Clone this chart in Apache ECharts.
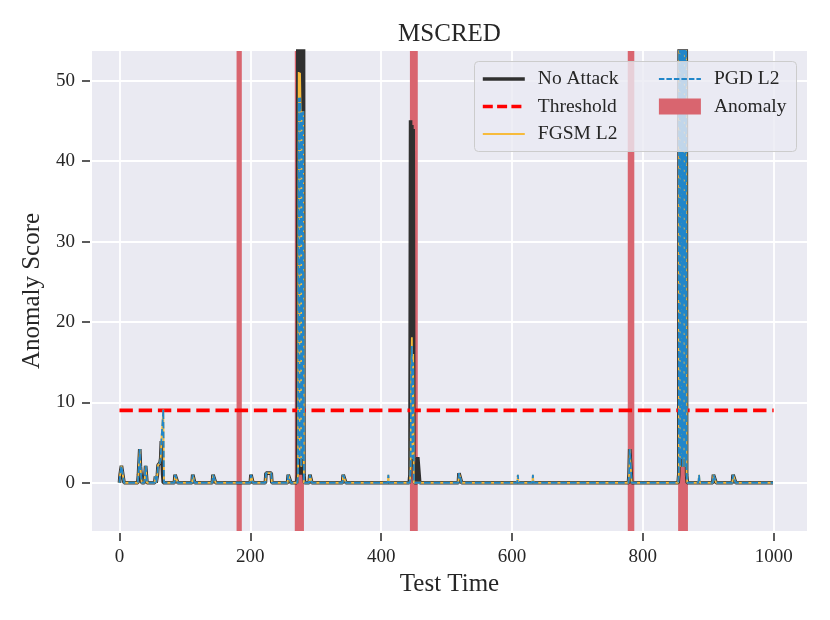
<!DOCTYPE html>
<html><head><meta charset="utf-8">
<script src="https://cdn.jsdelivr.net/npm/echarts@6/dist/echarts.min.js"></script>
<style>html,body{margin:0;padding:0;background:#fff}#c{width:830px;height:620px}</style>
</head><body><div id="c"></div>
<script>
const xTicks = [0, 200, 400, 600, 800, 1000];
const yTicks = [0, 10, 20, 30, 40, 50];
const threshold = 9.0;
const thresholdSpan = [0, 1000];
const anomalyRanges = [[179, 187], [268, 282], [444, 456], [777, 787], [854, 869]];

const noAttack = [
  [0,0],[1,1],[2,1],[3,2.1],[6,2.1],[7,0],
  [28,0],[29,1],[30,1.2],[31,4.2],[32,2],[33,1],[34,0],
  [38,0],[39,1],[40,2.1],[41,2.1],[42,0],
  [54,0],[55,0.8],[56,0],
  [57,0],[58,1],[59,2.2],[61,2.2],[62,2.5],[63,3],[64,5.2],[65,5.2],[66,1],[67,0],
  [84,0],[85,1],[88,1],[89,0],
  [111,0],[112,1],[114,1],[115,0],
  [142,0],[143,1],[146,1],[147,0],
  [200,0],[201,1],[203,1],[204,0],
  [223,0],[224,1.2],[232,1.2],[233,0],
  [257,0],[258,1],[261,1],[262,0],
  [271,0],[272,1],[273,90],[274,2],[275,100],[276,1],[277,95],[278,2],[279,110],[280,1],[281,90],[282,1],[283,0],
  [290,0],[291,1],[293,1],[294,0],
  [341,0],[342,1],[345,1],[346,0],
  [443,0],[444,1],[445,45.1],[446,3],[447,44.5],[448,2],[449,44],[450,3],[451,0],
  [455,0],[456,3.2],[458,3.2],[459,0],
  [518,0],[519,1.2],[522,1.2],[523,0],
  [778,0],[779,1],[780,4.2],[782,4.2],[783,0],
  [854,0],[855,1],[856,100],[857,2],[858,105],[859,3],[860,110],[861,2],[862,100],[863,3],[864,105],[865,2],[866,95],[867,1],[868,0],
  [907,0],[908,1],[911,1],[912,0],
  [937,0],[938,1],[941,1],[942,0],
  [999,0]
];

const fgsmL2 = [
  [0,0],[1,1],[2,1],[3,2.1],[6,2.1],[7,0],
  [28,0],[29,1],[30,1.2],[31,4.2],[32,2],[33,1],[34,0],
  [38,0],[39,1],[40,2.1],[41,2.1],[42,0],
  [54,0],[55,0.8],[56,0],
  [57,0],[58,1],[59,2.2],[61,2.2],[62,2.5],[63,3],[64,5.2],[65,5.2],[66,5],[67,9.1],[68,0],
  [84,0],[85,1],[88,1],[89,0],
  [111,0],[112,1],[114,1],[115,0],
  [142,0],[143,1],[146,1],[147,0],
  [200,0],[201,1],[203,1],[204,0],
  [223,0],[224,1.2],[232,1.2],[233,0],
  [257,0],[258,1],[261,1],[262,0],
  [272,0],[273,1],[274,51.1],[275,3],[276,51],[277,46.2],[278,2],[279,46.2],[280,3],[281,46.2],[282,0],
  [290,0],[291,1],[293,1],[294,0],
  [341,0],[342,1],[345,1],[346,0],
  [410,0],[411,1],[412,0],
  [444,0],[445,2],[446,14],[447,18.1],[448,3],[449,16],[450,0],
  [518,0],[519,1.2],[522,1.2],[523,0],
  [608,0],[609,1],[610,0],
  [631,0],[632,1],[633,0],
  [778,0],[779,1],[780,4.2],[782,4.2],[783,0],
  [854,0],[855,1],[856,100],[857,2],[858,105],[859,3],[860,110],[861,2],[862,100],[863,3],[864,105],[865,2],[866,95],[867,1],[868,0],
  [885,0],[886,1],[887,0],
  [907,0],[908,1],[911,1],[912,0],
  [937,0],[938,1],[941,1],[942,0],
  [999,0]
];

const pgdL2 = [
  [0,0],[1,1],[2,1],[3,2.1],[6,2.1],[7,0],
  [28,0],[29,1],[30,1.2],[31,4.2],[32,2],[33,1],[34,0],
  [38,0],[39,1],[40,2.1],[41,2.1],[42,0],
  [54,0],[55,0.8],[56,0],
  [57,0],[58,1],[59,2.2],[61,2.2],[62,2.5],[63,3],[64,5.2],[65,5.2],[66,5],[67,9.1],[68,0],
  [84,0],[85,1],[88,1],[89,0],
  [111,0],[112,1],[114,1],[115,0],
  [142,0],[143,1],[146,1],[147,0],
  [200,0],[201,1],[203,1],[204,0],
  [223,0],[224,1.2],[232,1.2],[233,0],
  [257,0],[258,1],[261,1],[262,0],
  [272,0],[273,1],[274,47.9],[275,3],[276,47.9],[277,46.2],[278,2],[279,46.2],[280,3],[281,46.2],[282,0],
  [290,0],[291,1],[293,1],[294,0],
  [341,0],[342,1],[345,1],[346,0],
  [410,0],[411,1],[412,0],
  [444,0],[445,2],[446,14],[447,17],[448,3],[449,15],[450,0],
  [518,0],[519,1.2],[522,1.2],[523,0],
  [608,0],[609,1],[610,0],
  [631,0],[632,1],[633,0],
  [778,0],[779,1],[780,4.2],[782,4.2],[783,0],
  [854,0],[855,1],[856,100],[857,2],[858,105],[859,3],[860,110],[861,2],[862,100],[863,3],[864,105],[865,2],[866,95],[867,1],[868,0],
  [885,0],[886,1],[887,0],
  [907,0],[908,1],[911,1],[912,0],
  [937,0],[938,1],[941,1],[942,0],
  [999,0]
];

const FONT = 'Liberation Serif';
const TXT = '#262626';
const BAND = '#d9656f';
const BLACK = '#303030';
const RED = '#ff0000';
const YELLOW = '#f7bb3c';
const BLUE = '#2186c9';

const chart = echarts.init(document.getElementById('c'), null, {renderer: 'canvas'});
const lineBase = {type: 'line', symbol: 'none', showSymbol: false, clip: true, animation: false, emphasis: {disabled: true}, silent: true};
const legendText = {fontFamily: FONT, fontSize: 19.5, color: TXT, padding: [0, 0, 0, 8]};
const hideSym = {opacity: 0};

chart.setOption({
  animation: false,
  backgroundColor: '#ffffff',
  title: {
    text: 'MSCRED', left: 449.5, top: 22, textAlign: 'center', padding: 0,
    textStyle: {fontFamily: FONT, fontSize: 25, fontWeight: 'normal', color: TXT}
  },
  grid: {left: 92, right: 23, top: 51, bottom: 89, show: true, backgroundColor: '#EAEAF2', borderWidth: 0},
  graphic: [{
    type: 'rect', z: 100, shape: {x: 474.5, y: 61.5, width: 322, height: 90, r: 4},
    style: {fill: 'rgba(234,234,242,0.8)', stroke: '#cccccc', lineWidth: 1}
  }],
  legend: [
    {data: [
       {name: 'No Attack', itemStyle: hideSym, lineStyle: {width: 3.6, color: BLACK}},
       {name: 'Threshold', itemStyle: hideSym, lineStyle: {width: 3.6, color: RED, type: [10, 4.3]}},
       {name: 'FGSM L2', itemStyle: hideSym, lineStyle: {width: 1.8, color: YELLOW}}],
     orient: 'vertical', left: 481, top: 69, itemWidth: 42, itemHeight: 16, itemGap: 7.5,
     padding: 0, selectedMode: false, z: 200, textStyle: legendText},
    {data: [
       {name: 'PGD L2', itemStyle: hideSym, lineStyle: {width: 1.8, color: BLUE, type: [5.5, 2]}},
       {name: 'Anomaly', icon: 'rect'}],
     orient: 'vertical', left: 658, top: 69, itemWidth: 42, itemHeight: 16, itemGap: 7.5,
     padding: 0, selectedMode: false, z: 200, textStyle: legendText}
  ],
  xAxis: {
    type: 'value', min: -42, max: 1051, offset: 2,
    axisLine: {show: false, onZero: false},
    axisTick: {show: true, length: 8, customValues: xTicks, lineStyle: {color: TXT, width: 1.5}},
    axisLabel: {customValues: xTicks, margin: 15, fontFamily: FONT, fontSize: 19, color: TXT, formatter: v => String(v)},
    splitLine: {show: true, lineStyle: {color: '#ffffff', width: 1.8}},
    name: 'Test Time', nameLocation: 'middle', nameGap: 38,
    nameTextStyle: {fontFamily: FONT, fontSize: 25, color: TXT}
  },
  yAxis: {
    type: 'value', min: -6, max: 53.7, offset: 2,
    axisLine: {show: false, onZero: false},
    axisTick: {show: true, length: 8, customValues: yTicks, lineStyle: {color: TXT, width: 1.5}},
    axisLabel: {customValues: yTicks, margin: 15, fontFamily: FONT, fontSize: 19, color: TXT, formatter: v => String(v)},
    splitLine: {show: true, lineStyle: {color: '#ffffff', width: 1.8}},
    name: 'Anomaly Score', nameLocation: 'middle', nameGap: 42,
    nameTextStyle: {fontFamily: FONT, fontSize: 25, color: TXT}
  },
  series: [
    Object.assign({}, lineBase, {
      name: 'Anomaly', data: [], z: 1,
      itemStyle: {color: BAND}, lineStyle: {color: BAND},
      markArea: {silent: true, itemStyle: {color: BAND}, data: anomalyRanges.map(r => [{xAxis: r[0]}, {xAxis: r[1]}])}
    }),
    Object.assign({}, lineBase, {name: 'No Attack', data: noAttack, z: 3, itemStyle: {color: BLACK}, lineStyle: {color: BLACK, width: 3.6}}),
    Object.assign({}, lineBase, {name: 'Threshold', data: thresholdSpan.map(x => [x, threshold]), z: 4, itemStyle: {color: RED}, lineStyle: {color: RED, width: 3.6, type: [13.4, 5.8]}}),
    Object.assign({}, lineBase, {name: 'FGSM L2', data: fgsmL2, z: 5, itemStyle: {color: YELLOW}, lineStyle: {color: YELLOW, width: 1.8}}),
    Object.assign({}, lineBase, {name: 'PGD L2', data: pgdL2, z: 6, itemStyle: {color: BLUE}, lineStyle: {color: BLUE, width: 1.8, type: [6.7, 2.9]}})
  ]
});
</script></body></html>
